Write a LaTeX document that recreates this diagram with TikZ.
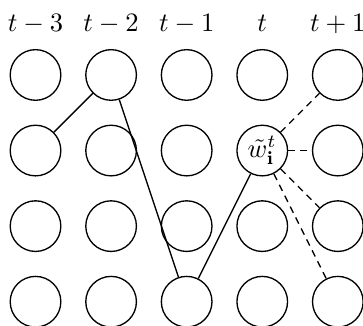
\documentclass[tikz,border=0pt]{standalone}
\usepackage{amsmath}

\begin{document}
\begin{tikzpicture}[
  cellnode/.style={shape=circle, draw=black, line width=0.5pt, minimum size=0.67cm, inner sep=0pt},
  timelabel/.style={anchor=base, inner sep=0pt},
  solidlink/.style={draw=black, line width=0.5pt},
  dashlink/.style={draw=black, line width=0.5pt, dash pattern=on 2.6pt off 2pt},
]

\useasboundingbox (-0.470,-3.320) rectangle (4.333,0.992);

%TIME LABELS
\node[timelabel] (l0) at (0,0.57) {$t-3$};
\node[timelabel] (l1) at (1,0.57) {$t-2$};
\node[timelabel] (l2) at (2,0.57) {$t-1$};
\node[timelabel] (l3) at (3,0.57) {$t$};
\node[timelabel] (l4) at (4,0.57) {$t+1$};

%GRID OF CELLS
\foreach \r in {0,2,3}{
  \foreach \c in {0,...,4}{
    \node[cellnode] (n\r\c) at (\c,-\r) {};
  }
}
\node[cellnode] (n10) at (0,-1) {};
\node[cellnode] (n11) at (1,-1) {};
\node[cellnode] (n12) at (2,-1) {};
\node[cellnode] (n13) at (3,-1) {$\tilde{w}^{t}_{\mathbf{i}}$};
\node[cellnode] (n14) at (4,-1) {};

%PATH
\draw[solidlink] (n10) -- (n01);
\draw[solidlink] (n01) -- (n32);
\draw[solidlink] (n32) -- (n13);

%NEXT STEP
\draw[dashlink] (n13) -- (n04);
\draw[dashlink] (n13) -- (n14);
\draw[dashlink] (n13) -- (n24);
\draw[dashlink] (n13) -- (n34);

\end{tikzpicture}
\end{document}
